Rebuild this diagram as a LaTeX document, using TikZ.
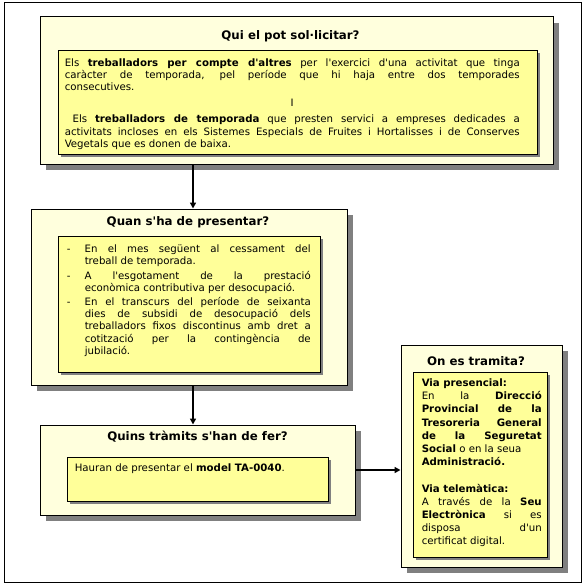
\documentclass[tikz,border=0pt]{standalone}
\usepackage{fontspec}
\setmainfont{DejaVu Sans}[Ligatures=TeXOff]
\usetikzlibrary{arrows.meta, positioning, shadows}
\definecolor{paleyellow}{RGB}{255,255,221}
\definecolor{boxyellow}{RGB}{255,255,153}
\definecolor{shadowgray}{RGB}{128,128,128}
\tikzset{outerbox/.style={rectangle,draw,line width=1pt,fill=paleyellow,inner sep=0pt,drop shadow={shadow xshift=6pt,shadow yshift=-6pt,fill=shadowgray,opacity=1}},innerbox/.style={rectangle,draw,line width=0.9pt,fill=boxyellow,inner sep=0pt,drop shadow={shadow xshift=3pt,shadow yshift=-3pt,fill=shadowgray,opacity=1}},heading/.style={font=\bfseries\fontsize{11.8}{14}\selectfont,inner sep=0pt,anchor=base},body/.style={font=\fontsize{10.2}{12.2}\selectfont,align=justify,inner sep=0pt,anchor=base west},link/.style={line width=1.8pt,-{Triangle[length=6pt,width=6pt]}}}

\begin{document}
\begin{tikzpicture}[x=1pt,y=-1pt]
\useasboundingbox (0,0) rectangle (585,586);
\draw[line width=1pt] (4,3) rectangle (581,582);
\coordinate (spine) at (193,0);
% qui el pot sol-licitar
\node[outerbox, minimum width=513pt, minimum height=147pt] (qui) at (296.5,90.5) {};
\node[heading] (quihead) at ([xshift=-6pt,yshift=-23pt]qui.north) {Qui el pot sol·licitar?};
\node[innerbox, minimum width=479pt, minimum height=104pt] (quiin) at (297.5,102) {};
\node[body, text width=455pt] (quitext) at ([xshift=7pt,yshift=-17pt]quiin.north west) {Els \textbf{treballadors per compte d'altres} per l'exercici d'una activitat que tinga\linebreak caràcter de temporada, pel període que hi haja entre dos temporades\linebreak consecutives.\par\vspace{3.5pt}{\centering I\par}\vspace{4pt}\ Els \textbf{treballadors de temporada} que presten servici a empreses dedicades a\linebreak activitats incloses en els Sistemes Especials de Fruites i Hortalisses i de Conserves\linebreak Vegetals que es donen de baixa.};
% quan s'ha de presentar
\node[outerbox, minimum width=316pt, minimum height=176pt] (quan) at (189,297) {};
\node[heading] (quanhead) at ([xshift=-1pt,yshift=-17pt]quan.north) {Quan s'ha de presentar?};
\node[innerbox, minimum width=262pt, minimum height=136pt] (quanin) at (189,304) {};
\node[body, text width=244pt] (quantext) at ([xshift=9pt,yshift=-17pt]quanin.north west) {\makebox[18pt][l]{-}\parbox[t]{226pt}{En el mes següent al cessament del\linebreak treball de temporada.}\\[3pt]
\makebox[18pt][l]{-}\parbox[t]{226pt}{A l'esgotament de la prestació\linebreak econòmica contributiva per desocupació.}\\[3pt]
\makebox[18pt][l]{-}\parbox[t]{226pt}{En el transcurs del període de seixanta\linebreak dies de subsidi de desocupació dels\linebreak treballadors fixos discontinus amb dret a\linebreak cotització per la contingència de\linebreak jubilació.}};
% quins tramits
\node[outerbox, minimum width=315pt, minimum height=90pt] (quins) at (197.5,470) {};
\node[heading] (quinshead) at ([yshift=-16pt]quins.north) {Quins tràmits s'han de fer?};
\node[innerbox, minimum width=261pt, minimum height=44pt] (quinsin) at (197.5,479) {};
\node[body, text width=245pt] (quinstext) at ([xshift=8pt,yshift=-15pt]quinsin.north west) {Hauran de presentar el \textbf{model TA-0040}.};
% on es tramita
\node[outerbox, minimum width=161pt, minimum height=222pt] (on) at (481.5,456) {};
\node[heading] (onhead) at ([xshift=-5.5pt,yshift=-21pt]on.north) {On es tramita?};
\node[innerbox, minimum width=134pt, minimum height=185pt] (onin) at (480,464.5) {};
\node[body, text width=120pt, font=\fontsize{10.2}{13.2}\selectfont] (ontext) at ([xshift=9pt,yshift=-15pt]onin.north west) {\textbf{Via presencial:}\\
En la \textbf{Direcció}\linebreak \textbf{Provincial de la}\linebreak \textbf{Tresoreria General}\linebreak \textbf{de la Seguretat}\linebreak \textbf{Social} o en la seua\\
\textbf{Administració.}\\[13.2pt]
\textbf{Via telemàtica:}\\
A través de la \textbf{Seu}\linebreak \textbf{Electrònica} si es\linebreak disposa d'un\linebreak certificat digital.};
% connectors
\draw[link] (qui.south -| spine) -- (quan.north -| spine);
\draw[link] (quan.south -| spine) -- (quins.north -| spine);
\draw[link] (quins.east) -- (quins.east -| on.west);
\end{tikzpicture}
\end{document}
